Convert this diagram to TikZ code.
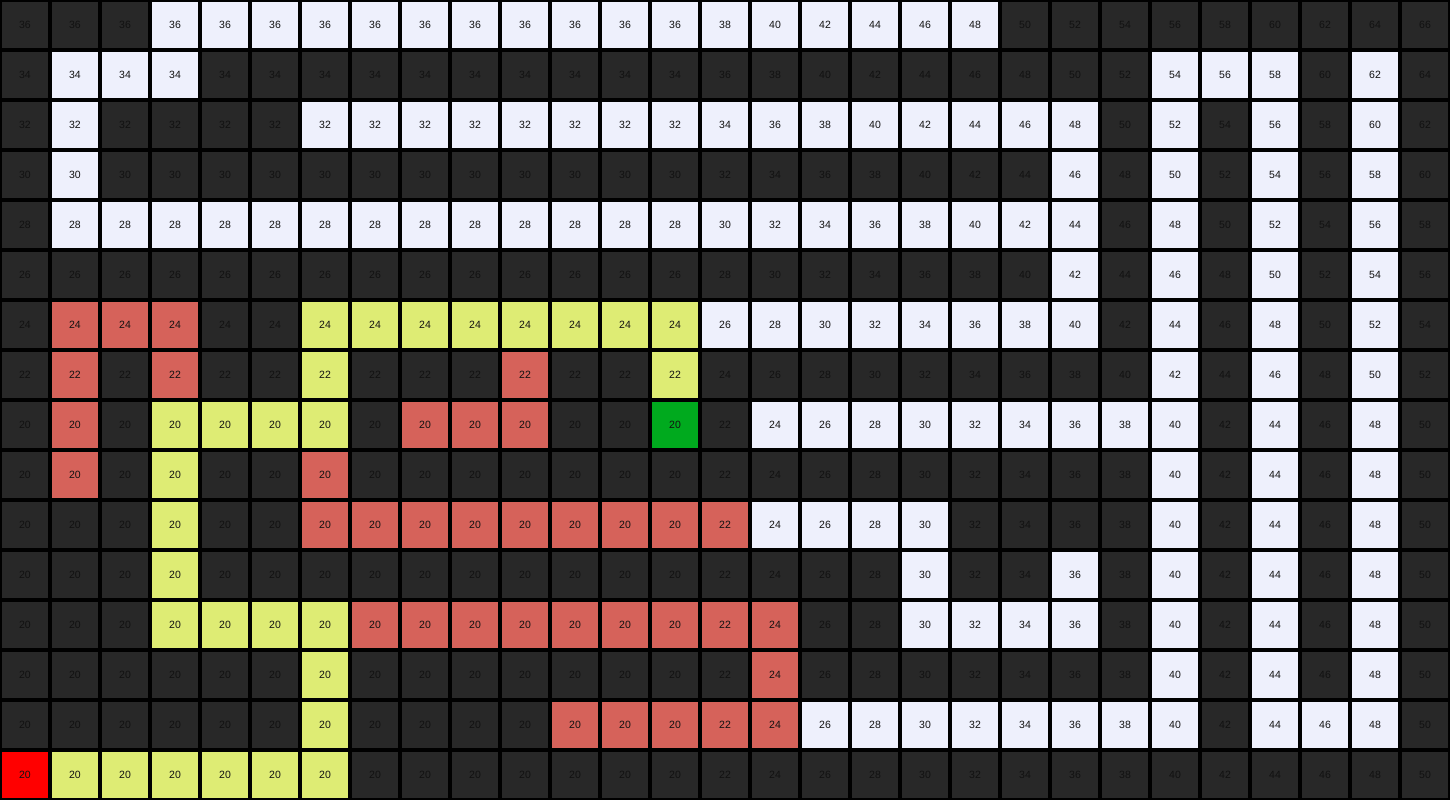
\documentclass[tikz,border=0pt]{standalone}
\usepackage{fontspec}
\setmainfont{Liberation Sans}
\definecolor{cd}{HTML}{282828}
\definecolor{cw}{HTML}{EEF0FC}
\definecolor{cr}{HTML}{D6625A}
\definecolor{cy}{HTML}{DEEC74}
\definecolor{cg}{HTML}{00AA1E}
\definecolor{cs}{HTML}{FF0000}
\definecolor{ct}{HTML}{111111}
\begin{document}
\begin{tikzpicture}[x=1pt,y=1pt,
  cell/.style={rectangle, minimum size=46.5pt, inner sep=0pt, text=ct,
    font=\fontsize{10.5}{12}\selectfont}]
\fill[black] (0,0) rectangle (1450,-800);
\useasboundingbox (0,0) rectangle (1450,-800);
\foreach \rowlist [count=\i from 0] in {
 {d,d,d,w,w,w,w,w,w,w,w,w,w,w,w,w,w,w,w,w,d,d,d,d,d,d,d,d,d},
 {d,w,w,w,d,d,d,d,d,d,d,d,d,d,d,d,d,d,d,d,d,d,d,w,w,w,d,w,d},
 {d,w,d,d,d,d,w,w,w,w,w,w,w,w,w,w,w,w,w,w,w,w,d,w,d,w,d,w,d},
 {d,w,d,d,d,d,d,d,d,d,d,d,d,d,d,d,d,d,d,d,d,w,d,w,d,w,d,w,d},
 {d,w,w,w,w,w,w,w,w,w,w,w,w,w,w,w,w,w,w,w,w,w,d,w,d,w,d,w,d},
 {d,d,d,d,d,d,d,d,d,d,d,d,d,d,d,d,d,d,d,d,d,w,d,w,d,w,d,w,d},
 {d,r,r,r,d,d,y,y,y,y,y,y,y,y,w,w,w,w,w,w,w,w,d,w,d,w,d,w,d},
 {d,r,d,r,d,d,y,d,d,d,r,d,d,y,d,d,d,d,d,d,d,d,d,w,d,w,d,w,d},
 {d,r,d,y,y,y,y,d,r,r,r,d,d,g,d,w,w,w,w,w,w,w,w,w,d,w,d,w,d},
 {d,r,d,y,d,d,r,d,d,d,d,d,d,d,d,d,d,d,d,d,d,d,d,w,d,w,d,w,d},
 {d,d,d,y,d,d,r,r,r,r,r,r,r,r,r,w,w,w,w,d,d,d,d,w,d,w,d,w,d},
 {d,d,d,y,d,d,d,d,d,d,d,d,d,d,d,d,d,d,w,d,d,w,d,w,d,w,d,w,d},
 {d,d,d,y,y,y,y,r,r,r,r,r,r,r,r,r,d,d,w,w,w,w,d,w,d,w,d,w,d},
 {d,d,d,d,d,d,y,d,d,d,d,d,d,d,d,r,d,d,d,d,d,d,d,w,d,w,d,w,d},
 {d,d,d,d,d,d,y,d,d,d,d,r,r,r,r,r,w,w,w,w,w,w,w,w,d,w,w,w,d},
 {s,y,y,y,y,y,y,d,d,d,d,d,d,d,d,d,d,d,d,d,d,d,d,d,d,d,d,d,d}}
{
  \foreach \col [count=\c from 0] in \rowlist {
    \pgfmathtruncatemacro\v{20+2*max(0,8-\i)+2*max(0,\c-13)}
    \node[cell, fill=c\col] (n-\i-\c) at ({\c*50+25},{-\i*50-25}) {\v};
  }
}
\end{tikzpicture}
\end{document}
